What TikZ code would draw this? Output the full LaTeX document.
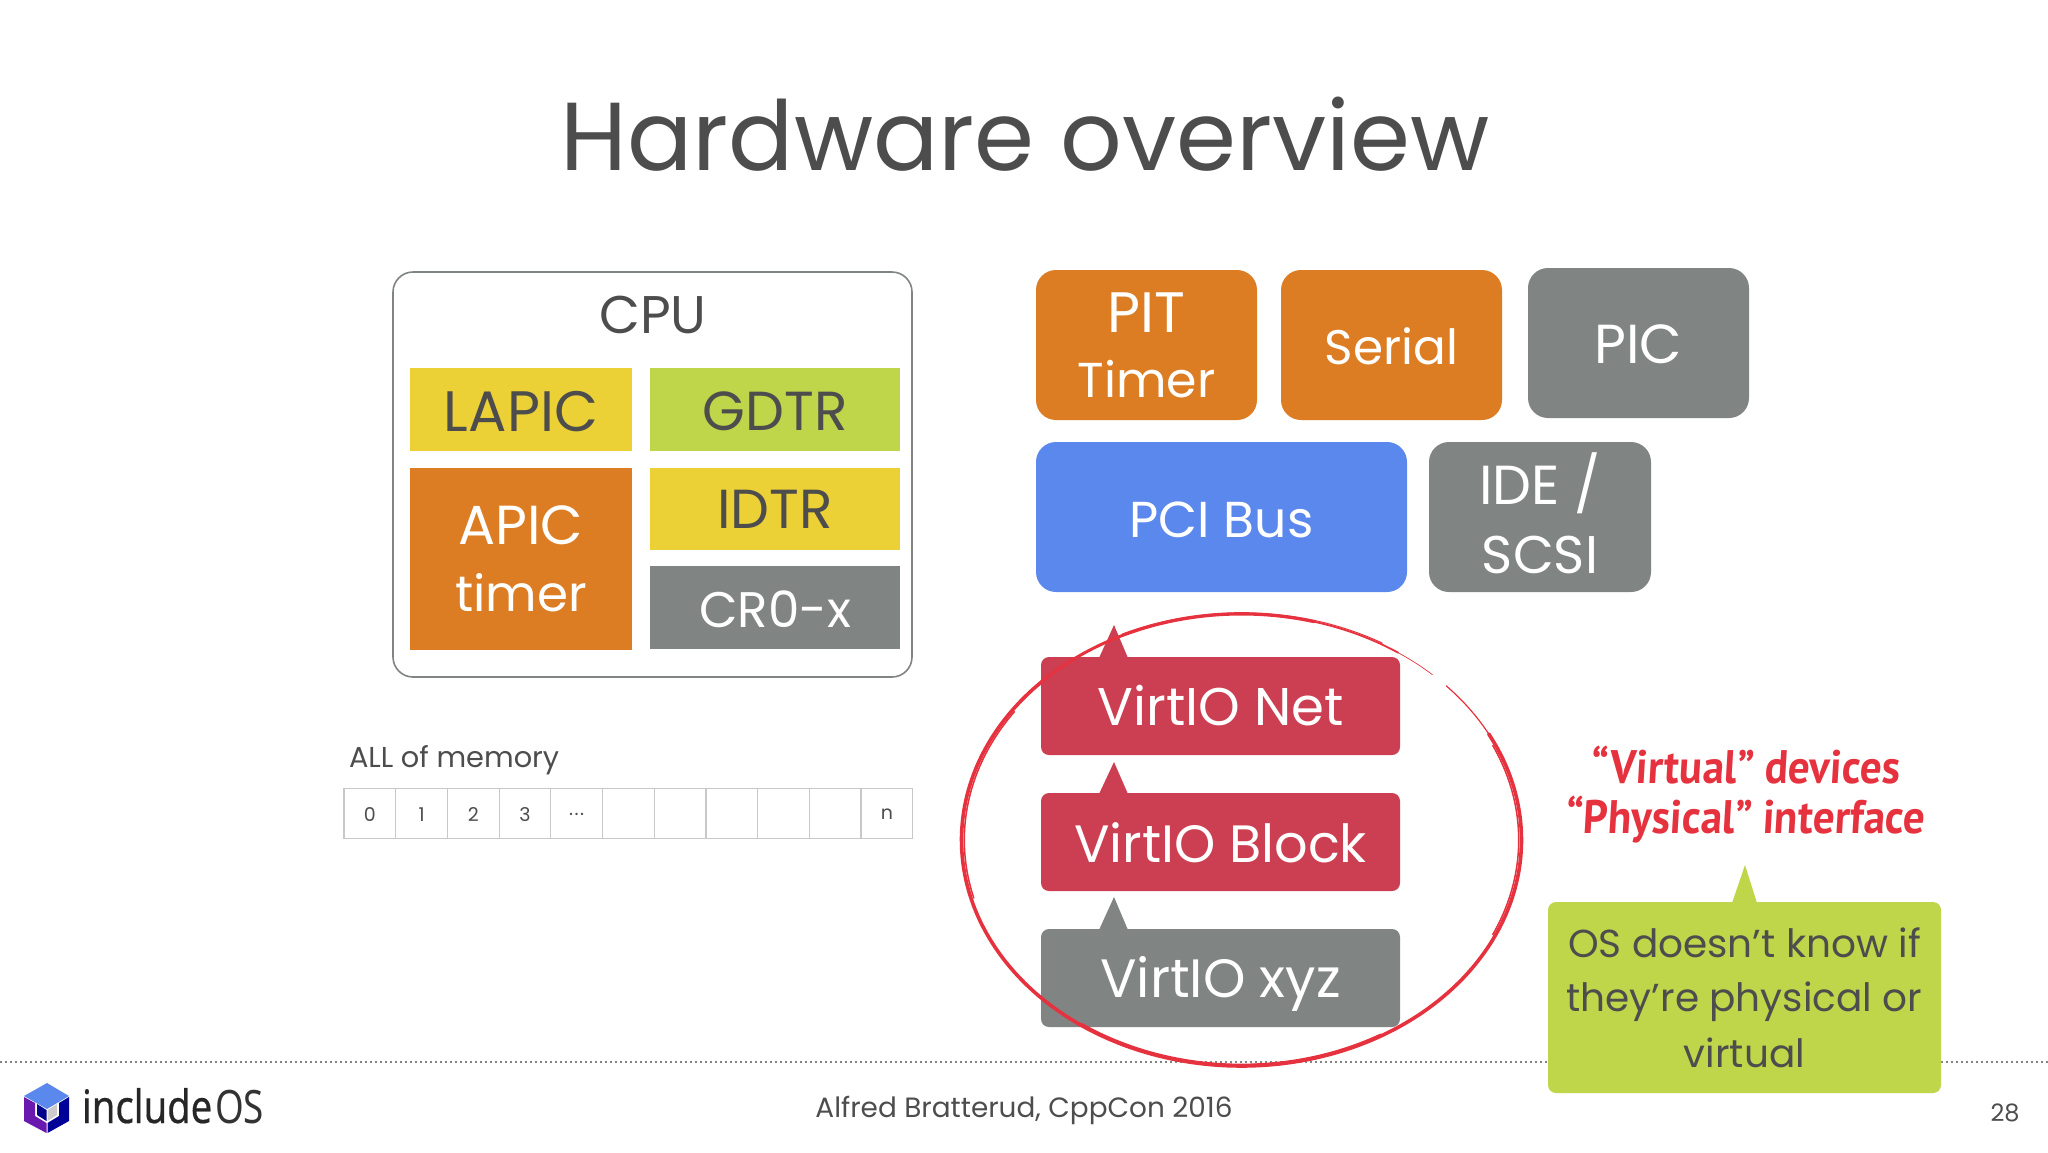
\documentclass[tikz,border=0pt]{standalone}
\usepackage{fontspec}
\setmainfont{Poppins}[Scale=1.0]
\newfontfamily\handfont{PT Sans Bold}[FakeStretch=0.92,FakeSlant=0.06]
\newfontfamily\logofont{Noto Sans}[FakeStretch=0.83,FakeBold=0.4]
\newfontfamily\logofontb{Noto Sans}[FakeStretch=0.8]
\definecolor{ink}{HTML}{4D4D4D}
\definecolor{orng}{HTML}{DC7D23}
\definecolor{yell}{HTML}{ECD136}
\definecolor{lime}{HTML}{BFD54A}
\definecolor{gry}{HTML}{808483}
\definecolor{blu}{HTML}{5B88EC}
\definecolor{rd}{HTML}{CC3F52}
\definecolor{pen}{HTML}{E6323E}
\definecolor{cellline}{HTML}{C8C8C8}
\newcommand\fs[1]{\fontsize{#1}{#1}\selectfont}
\newcommand\tdots{.\kern1.5pt.\kern1.5pt.}
\newcommand\dn[2]{\raisebox{-#1pt}[\height][\depth]{#2}}
\newcommand\bx[7]{%
 \pgfmathsetmacro\bw{#4-#2}\pgfmathsetmacro\bh{#5-#3}%
 \pgfmathsetmacro\bcx{(#4+#2)/2}\pgfmathsetmacro\bcy{(#5+#3)/2}%
 \node[#6,minimum width=\bw pt,minimum height=\bh pt] (#1) at (\bcx,\bcy) {#7};}
\newcommand\penarc[4]{\draw[penline,line width=#4pt] plot[domain=#1:#2,samples=70,smooth] ({1241.5+280*#3*cos(\x)},{840+226*#3*sin(\x)});}
\tikzset{
 bb/.style={inner sep=0pt,outer sep=0pt,align=center},
 rnd/.style={bb,rounded corners=20pt,text=white},
 vio/.style={bb,rounded corners=8pt,text=white},
 cell/.style={bb,draw=cellline,line width=1.2pt,font=\fs{19},text=ink},
 penline/.style={draw=pen,line cap=round},
}
\begin{document}
\begin{tikzpicture}[x=1pt,y=-1pt]
\useasboundingbox (0,0) rectangle (2048,1152);
\fill[white] (0,0) rectangle (2048,1152);
\node[bb,text=ink,font=\fs{96.6}] (title) at (1025,134) {Hardware overview};
% CPU
\bx{cpu}{393}{272}{912}{677}{bb,draw=gry,line width=1.6pt,rounded corners=20pt}{}
\node[bb,text=ink,font=\fs{53}] (cpul) at (653,315) {CPU};
\bx{lapic}{410}{368}{632}{451}{bb,fill=yell,text=ink}{\fs{57}\dn{2.5}{LAPIC}}
\bx{gdtr}{650}{368}{900}{451}{bb,fill=lime,text=ink}{\fs{55}\dn{2}{GDTR}}
\bx{apic}{410}{468}{632}{650}{bb,fill=orng,text=white}{\fs{55}APIC\\[28pt]\fs{50}timer}
\bx{idtr}{650}{468}{900}{550}{bb,fill=yell,text=ink}{\fs{55}IDTR}
\bx{cr}{650}{566}{900}{649}{bb,fill=gry,text=white}{\fs{50}\dn{2}{CR0-x}}
% right
\bx{pit}{1036}{270}{1257}{420}{rnd,fill=orng}{\fs{57}PIT\\[27pt]\fs{49}Timer}
\bx{serial}{1281}{270}{1502}{420}{rnd,fill=orng}{\fs{48.5}\dn{1.5}{Serial}}
\bx{pic}{1528}{268}{1749}{418}{rnd,fill=gry}{\fs{55}\dn{1.5}{PIC}}
\bx{pci}{1036}{442}{1407}{592}{rnd,fill=blu}{\fs{50.5}\dn{2.5}{PCI Bus}}
\bx{ide}{1429}{442}{1651}{592}{rnd,fill=gry}{\fs{55}\dn{-5}{IDE /}\\[18pt]\fs{53}\dn{-2}{SCSI}}
% virtio
\fill[rd] (1099,658) -- (1114,625) -- (1128,658) -- cycle;
\fill[rd] (1099,794) -- (1114,762) -- (1128,794) -- cycle;
\fill[gry] (1099,930) -- (1114,897) -- (1128,930) -- cycle;
\bx{vnet}{1041}{657}{1400}{755}{vio,fill=rd}{\fs{53}VirtIO Net}
\bx{vblk}{1041}{793}{1400}{891}{vio,fill=rd}{\fs{52.5}\dn{1}{VirtIO Block}}
\bx{vxyz}{1041}{929}{1400}{1027}{vio,fill=gry}{\fs{54}\dn{6}{VirtIO xyz}}
% memory
\node[bb,anchor=base west,text=ink,font=\fs{28.8}] (mem) at (349,767) {ALL of memory};
\foreach \i/\t in {0/0,1/1,2/2,3/3,4/\tdots,5/,6/,7/,8/,9/,10/n}{
 \pgfmathsetmacro\cx{344+51.7*\i+25.85}
 \node[cell,minimum width=51.7pt,minimum height=50.5pt] (c\i) at (\cx,813.5) {\dn{1}{\t}};
}
% footer line
\draw[gry,line width=1.3pt,dash pattern=on 1.5pt off 3.5pt] (0,1062) -- (1548,1062);
\draw[gry,line width=1.3pt,dash pattern=on 1.5pt off 3.5pt] (1941,1062) -- (2048,1062);
% hand circle
\penarc{-28}{225}{1}{3.6}
\penarc{225}{285}{1}{3.0}
\penarc{285}{304}{1}{1.8}
\penarc{304}{313}{1}{0.7}
\penarc{317}{332}{1}{1.2}
\penarc{60}{125}{0.993}{1.6}
\penarc{-25}{25}{0.99}{1.5}
\penarc{165}{215}{0.99}{1.5}
\penarc{245}{300}{1.006}{1.0}
% green callout
\fill[lime] (1732,903) -- (1745,865) -- (1757,903) -- cycle;
\bx{gr}{1548}{902}{1941}{1093}{bb,rounded corners=8pt,fill=lime,text=ink,font=\fs{39}}{OS doesn’t know if\\[15pt]they’re physical or\\[15pt]virtual}
\node[bb,text=pen,font={\handfont\fs{47}}] (hand) at (1745,795) {“Virtual” devices\\[3pt]“Physical” interface};
% footer
\node[bb,text=ink,font=\fs{27.9}] (auth) at (1024,1110) {Alfred Bratterud, CppCon 2016};
\node[bb,text=ink,font=\fs{24}] (pg) at (2005,1113) {28};
% logo
\fill[blu] (47,1083) -- (69,1096) -- (47,1109) -- (24,1096) -- cycle;
\fill[violet!70!blue!90!white] (24,1097) -- (24,1121) -- (46.5,1133) -- (46.5,1123) -- (35,1116) -- (35,1103) -- cycle;
\fill[blue!60!black] (69,1097) -- (69,1121) -- (47.5,1133) -- (47.5,1123) -- (59,1116) -- (59,1103) -- cycle;
\fill[blue!55!black] (37,1104) -- (46.5,1110) -- (46.5,1121) -- (37,1115) -- cycle;
\fill[gray!40] (57,1104) -- (47.5,1110) -- (47.5,1121) -- (57,1115) -- cycle;
\node[bb,anchor=base west,font={\logofont\fs{46}},text=black!85] (inc) at (82,1123) {include};
\node[bb,anchor=base west,font={\logofontb\fs{46}},text=black!80] (os) at (215,1123) {OS};
\end{tikzpicture}
\end{document}
